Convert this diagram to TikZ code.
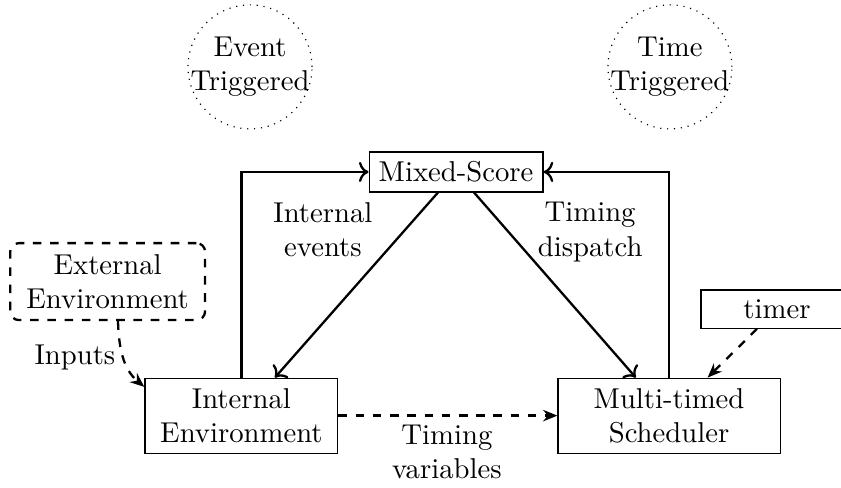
\documentclass[tikz,border=0pt]{standalone}
\usetikzlibrary{arrows.meta,calc}
\begin{document}
\begin{tikzpicture}[x=1pt,y=1pt,
  box/.style={draw, align=center, inner sep=3.33pt},
  sol/.style={thick, ->},
  dsh/.style={thick, dashed, -{Stealth[length=5pt,width=4pt]}},
  lbl/.style={align=center, inner sep=0pt}]
\useasboundingbox (0,0) rectangle (293,-169.7);
% trigger circles
\node[lbl] (et) at (87.1,-23.3) {Event\\Triggered};
\draw[dotted] (et.center) circle (21.6);
\node[lbl] (tt) at (233.4,-23.3) {Time\\Triggered};
\draw[dotted] (tt.center) circle (21.6);
% main nodes
\node[box] (ms) at (158.9,-59.9) {Mixed-Score};
\node[box, minimum width=67.2pt, minimum height=26.1pt] (ie) at (84.1,-144.8) {Internal\\Environment};
\node[box, minimum width=77.4pt, minimum height=26.1pt] (sch) at (233.1,-144.8) {Multi-timed\\Scheduler};
\node[box, dashed, thick, rounded corners=3pt, minimum width=67.9pt, minimum height=26.8pt] (ext) at (37.5,-98.1) {External\\Environment};
\node[box, minimum width=53pt] (tm) at (270.7,-107.7) {timer};
% connectors
\draw[sol] (ie.north) |- (ms.west);
\draw[sol] (sch.north) |- (ms.east);
\draw[sol] (ms) -- (ie);
\draw[sol] (ms) -- (sch);
\draw[dsh] (ie) -- (sch);
\draw[dsh] (tm) -- (sch);
\draw[dsh] ([xshift=3.6pt]ext.south) to[out=-88,in=140] ([yshift=10pt]ie.west);
% labels
\node[lbl] (l1) at (112.5,-80.1) {Internal\\events};
\node[lbl] (l2) at (205.6,-80.8) {Timing\\dispatch};
\node[lbl] (l3) at (26.1,-124.7) {Inputs};
\node[lbl] (l4) at (155.7,-157.5) {Timing\\variables};
\end{tikzpicture}
\end{document}
